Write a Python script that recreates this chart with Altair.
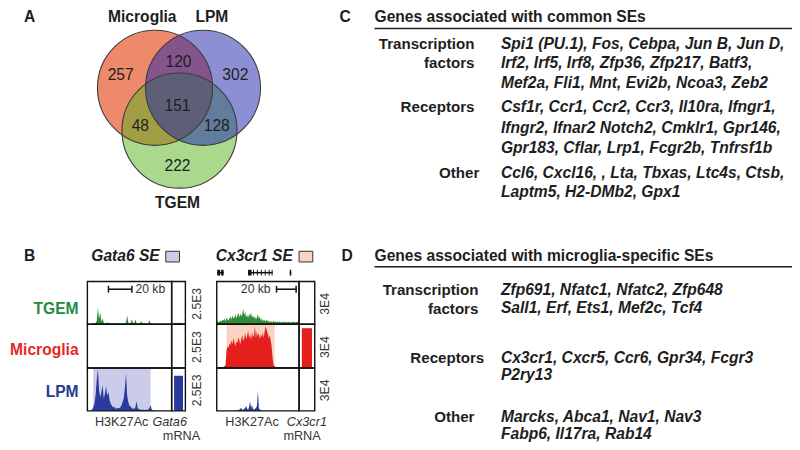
import altair as alt
import pandas as pd

# ======================= DATA =======================
# --- Panel A: Venn diagram of super-enhancer counts
venn_sets = ["Microglia", "LPM", "TGEM"]
venn_regions = ["Microglia only", "Microglia & LPM", "LPM only", "All three",
                "Microglia & TGEM", "LPM & TGEM", "TGEM only"]
venn_counts = [257, 120, 302, 151, 48, 128, 222]

# --- Panel B: H3K27Ac signal (reads) in 1-kb bins, and mRNA
track_rows = ["TGEM", "Microglia", "LPM"]

gata6_kb = list(range(73))
gata6_tgem = [0, 0, 0, 10, 40, 60, 50, 80, 200, 960, 300, 700, 150, 340, 90, 60, 50, 120, 60, 50,
              40, 60, 50, 40, 50, 60, 40, 50, 60, 50, 80, 60, 50, 100, 510, 80, 60, 90, 290, 60,
              80, 280, 60, 50, 40, 60, 170, 40, 50, 40, 30, 40, 60, 230, 40, 30, 20, 10, 10, 5,
              5, 5, 5, 5, 5, 5, 5, 5, 5, 5, 5, 5, 5]
gata6_microglia = []
gata6_lpm = [0, 10, 20, 40, 80, 200, 400, 900, 1800, 2440, 1200, 800, 1100, 1500, 700, 1000, 1450, 900, 1100, 600,
             400, 300, 200, 250, 150, 120, 180, 150, 200, 300, 500, 700, 1300, 2200, 900, 500, 300, 250, 150, 120,
             130, 200, 560, 150, 100, 80, 70, 60, 60, 50, 60, 70, 80, 150, 330, 80, 40, 20, 10, 10,
             5, 5, 5, 5, 5, 5, 5, 5, 5, 5, 5, 5, 5]
gata6_mrna = [80, 0, 2050]
gata6_scale_max = 2500
gata6_se = [5, 54]          # kb, super-enhancer (LPM)

cx3cr1_kb = list(range(85))
cx3cr1_tgem = [1400, 2000, 1400, 2000, 2700, 2000, 3400,
               2700, 4100, 2000, 4800, 3400, 2700, 4100,
               5500, 3400, 6100, 4100, 4800, 6800, 4100,
               6100, 8200, 4800, 7500, 5500, 6800, 10900,
               6100, 8900, 4800, 6800, 4100, 7500, 5500,
               8200, 4800, 6100, 4100, 5500, 3400, 4800,
               6800, 4100, 5500, 2700, 4100, 2000, 3400,
               2700, 2000, 3400, 2000, 2700, 1400, 2000,
               2000, 1400, 2700, 1400, 2000, 1400, 2000,
               1400, 2000, 1400, 1400, 2000, 1400, 1400,
               2000, 1400, 1400, 2000, 1400, 1400, 1400,
               1400, 2000, 1400, 1400, 1400, 2000, 1400, 1400]
cx3cr1_microglia = [700, 700, 700, 700, 700, 700, 700, 700, 1400, 2000,
                    12200, 15000, 13600, 17000, 15600, 19000, 16300, 20400, 17700, 15000,
                    18400, 17000, 21100, 19000, 16300, 19700, 22400, 18400, 20400, 23800,
                    19700, 21800, 25800, 20400, 23100, 19000, 24500, 21100, 22400, 28600,
                    20400, 25200, 21800, 23800, 19700, 23100, 21100, 24500, 20400, 25800,
                    28600, 25800, 23800, 20400, 22400, 19000, 15000, 6800, 2000, 1400,
                    700, 700, 700, 700, 700, 700, 700, 700, 700, 700,
                    700, 700, 700, 700, 700, 700, 700, 700, 700, 700,
                    700, 700, 700, 700, 700]
cx3cr1_lpm = [0, 0, 0, 0, 0, 0, 0, 0, 0, 0, 0, 0, 0, 0, 0, 0, 0, 0, 0, 0,
              700, 0, 700, 700, 1400, 2000, 700, 700, 1400, 2000, 3400, 1400, 700, 2700, 6800, 2000,
              4100, 1400, 700, 1400, 2000, 3400, 14300, 2000, 700, 700,
              0, 0, 0, 0, 0, 0, 0, 0, 0, 0, 0, 0, 0, 0, 0, 0, 0, 0, 0, 0,
              0, 0, 0, 0, 0, 0, 0, 0, 0, 0, 0, 0, 0, 0, 0, 0, 0, 0, 0]
cx3cr1_mrna = [0, 27300, 0]
cx3cr1_scale_max = 30000
cx3cr1_se = [10, 59]        # kb, super-enhancer (Microglia)
cx3cr1_gene_start = [0.5, 32, 74.5]
cx3cr1_gene_end = [7, 57, 76]
cx3cr1_exon_start = [0.5, 4.5, 32, 37, 41, 45, 49, 53, 56, 74.5]
cx3cr1_exon_end = [3.5, 7, 35.5, 38, 42, 46, 50, 54, 57, 76]
scalebar_kb = 20

# --- Panels C and D
common_title = "Genes associated with common SEs"
common_labels = ["Transcription", "factors", "Receptors", "Other"]
common_genes = [
    "Spi1 (PU.1), Fos, Cebpa, Jun B, Jun D,",
    "Irf2, Irf5, Irf8, Zfp36, Zfp217, Batf3,",
    "Mef2a, Fli1, Mnt, Evi2b, Ncoa3, Zeb2",
    "Csf1r, Ccr1, Ccr2, Ccr3, Il10ra, Ifngr1,",
    "Ifngr2, Ifnar2 Notch2, Cmklr1, Gpr146,",
    "Gpr183, Cflar, Lrp1, Fcgr2b, Tnfrsf1b",
    "Ccl6, Cxcl16, , Lta, Tbxas, Ltc4s, Ctsb,",
    "Laptm5, H2-DMb2, Gpx1",
]
specific_title = "Genes associated with microglia-specific SEs"
specific_labels = ["Transcription", "factors", "Receptors", "Other"]
specific_genes = [
    "Zfp691, Nfatc1, Nfatc2, Zfp648",
    "Sall1, Erf, Ets1, Mef2c, Tcf4",
    "Cx3cr1, Cxcr5, Ccr6, Gpr34, Fcgr3",
    "P2ry13",
    "Marcks, Abca1, Nav1, Nav3",
    "Fabp6, Il17ra, Rab14",
]

# ======================= LAYOUT (figure coordinates) =======================
W, H = 784, 434
SX, SY = 0.98, 434 / 446
FS = 0.975


def px(x):
    return 400 + (x - 400) * SX - 8


def py(y):
    return 225 + (y - 225) * SY - 8


CX = alt.Scale(domain=[0, 800], range=[px(0), px(800)], nice=False, zero=False)
CY = alt.Scale(domain=[0, 450], range=[py(0), py(450)], nice=False, zero=False)

FONT = "Liberation Sans"
INK = "#1e1e1e"
TOP_Y = 11.6

panel_letters = ["A", "B", "C", "D"]
panel_letter_x = [22, 22, 344, 346]
panel_letter_y = [TOP_Y, 257, TOP_Y, 257]

venn_cx = [150, 199, 175]
venn_cy = [84, 84, 128]
venn_r = 59
venn_label_x = [137, 208, 173]
venn_label_y = [TOP_Y, TOP_Y, 202]
venn_count_x = [115, 174, 232, 173, 135, 213, 173]
venn_count_y = [71, 58, 71, 103, 123, 123, 164]
venn_style = {"Microglia": ("#EF896C", 1.0), "TGEM": ("#55B31D", 0.5), "LPM": ("#191FA9", 0.5)}

ROW_Y = [(283, 327), (327, 372), (372, 416)]
row_label_y = [311, 353, 397]
row_label_colors = ["#238A3F", "#E42A25", "#2B3796"]
track_colors = ["#2E8C3A", "#E41F1C", "#2A3A9F"]
LOCI = [
    dict(name="Gata6", kb=gata6_kb, tracks=[gata6_tgem, gata6_microglia, gata6_lpm],
         mrna=gata6_mrna, ymax=gata6_scale_max, x0=81, x1=167, m1=181, span=72,
         se=gata6_se, se_row=2, shade="#CBCBEA", title_x=85, sq=(161, 175),
         ylab="2.5E3", ylab_x=193, h3_x=116, gene_x=165, mrna_x=177,
         bar_start=18, kb_text_x=130, kb_align="left"),
    dict(name="Cx3cr1", kb=cx3cr1_kb, tracks=[cx3cr1_tgem, cx3cr1_microglia, cx3cr1_lpm],
         mrna=cx3cr1_mrna, ymax=cx3cr1_scale_max, x0=213, x1=297, m1=313, span=84,
         se=cx3cr1_se, se_row=1, shade="#F9D2C2", title_x=212, sq=(297, 311),
         ylab="3E4", ylab_x=323, h3_x=249, gene_x=305, mrna_x=300,
         bar_start=61, kb_text_x=268, kb_align="right"),
]


def X(f, scale=CX):
    return alt.X(f, type="quantitative", scale=scale, axis=None)


def Y(f, scale=CY):
    return alt.Y(f, type="quantitative", scale=scale, axis=None)


def text_layer(xs, ys, texts, size=16, weight="normal", style="normal",
               align="center", color=INK, angle=None):
    df = pd.DataFrame({"x": xs, "y": ys, "t": texts})
    kw = dict(font=FONT, fontSize=size * FS, fontWeight=weight, fontStyle=style,
              align=align, baseline="middle", color=color)
    if angle is not None:
        kw["angle"] = angle
    return alt.Chart(df).mark_text(**kw).encode(x=X("x"), y=Y("y"), text="t:N")


layers = []

# ---------------- Panel A ----------------
circle_size = (2 * venn_r * FS) ** 2
for s in ["Microglia", "TGEM", "LPM"]:
    i = venn_sets.index(s)
    col, op = venn_style[s]
    df = pd.DataFrame({"x": [venn_cx[i]], "y": [venn_cy[i]], "set": [s]})
    layers.append(alt.Chart(df).mark_circle(size=circle_size, color=col, opacity=op)
                  .encode(x=X("x"), y=Y("y")))
outline = pd.DataFrame({"x": venn_cx, "y": venn_cy, "set": venn_sets})
layers.append(alt.Chart(outline).mark_point(shape="circle", filled=False, size=circle_size,
                                            color="#3c3c3c", strokeWidth=1.1, opacity=1)
              .encode(x=X("x"), y=Y("y")))
layers.append(text_layer(venn_count_x, venn_count_y, [str(c) for c in venn_counts], size=16))
layers.append(text_layer(venn_label_x, venn_label_y, venn_sets, size=16, weight="bold"))
layers.append(text_layer(panel_letter_x, panel_letter_y, panel_letters, size=16, weight="bold"))

# ---------------- Panel B ----------------
for L in LOCI:
    xs = alt.Scale(domain=[0, L["span"]], range=[px(L["x0"]), px(L["x1"])], nice=False, zero=False)
    # super-enhancer shading
    top, bot = ROW_Y[L["se_row"]]
    sdf = pd.DataFrame({"s": [L["se"][0]], "e": [L["se"][1]], "y0": [top], "y1": [bot]})
    layers.append(alt.Chart(sdf).mark_rect(color=L["shade"])
                  .encode(x=X("s", xs), x2="e", y=Y("y0"), y2="y1"))
    for r, (top, bot) in enumerate(ROW_Y):
        ys = alt.Scale(domain=[0, L["ymax"]], range=[py(bot), py(top)], nice=False, zero=True)
        sig = L["tracks"][r]
        if sig:
            df = pd.DataFrame({"kb": L["kb"], "signal": sig})
            layers.append(alt.Chart(df).mark_area(color=track_colors[r], interpolate="linear")
                          .encode(x=X("kb", xs), y=Y("signal", ys)))
        val = L["mrna"][r]
        if val > 0:
            bs = alt.Scale(type="band", domain=["mRNA"], range=[px(L["x1"]), px(L["m1"])],
                           paddingInner=0, paddingOuter=0.27)
            bdf = pd.DataFrame({"assay": ["mRNA"], "value": [val]})
            layers.append(alt.Chart(bdf).mark_bar(color=track_colors[r])
                          .encode(x=alt.X("assay:N", scale=bs, axis=None), y=Y("value", ys)))
    # frames
    fx0, fx1, fy0, fy1 = [], [], [], []
    for (top, bot) in ROW_Y:
        for a, b in [(L["x0"], L["x1"]), (L["x1"], L["m1"])]:
            fx0.append(a); fx1.append(b); fy0.append(top); fy1.append(bot)
    fdf = pd.DataFrame({"x0": fx0, "x1": fx1, "y0": fy0, "y1": fy1})
    layers.append(alt.Chart(fdf).mark_rect(filled=False, color="#111111", strokeWidth=1.4)
                  .encode(x=X("x0"), x2="x1", y=Y("y0"), y2="y1"))
    # scale bar
    sb = pd.DataFrame({"s": [L["bar_start"]], "e": [L["bar_start"] + scalebar_kb], "y": [291]})
    layers.append(alt.Chart(sb).mark_rule(color="#111111", strokeWidth=1.5)
                  .encode(x=X("s", xs), x2="e", y=Y("y")))
    tk = pd.DataFrame({"kb": [L["bar_start"], L["bar_start"] + scalebar_kb], "y0": [287.5, 287.5], "y1": [294.5, 294.5]})
    layers.append(alt.Chart(tk).mark_rule(color="#111111", strokeWidth=1.5)
                  .encode(x=X("kb", xs), y=Y("y0"), y2="y1"))
    layers.append(text_layer([L["kb_text_x"]], [291], [f"{scalebar_kb} kb"], size=12.5,
                             align=L["kb_align"], color="#333333"))
    # legend square + title
    sq = pd.DataFrame({"x0": [L["sq"][0]], "x1": [L["sq"][1]], "y0": [252], "y1": [263]})
    layers.append(alt.Chart(sq).mark_rect(fill=L["shade"], stroke="#333333", strokeWidth=1)
                  .encode(x=X("x0"), x2="x1", y=Y("y0"), y2="y1"))
    layers.append(text_layer([L["title_x"]], [257], [f"{L['name']} SE"], size=16,
                             weight="bold", style="italic", align="left"))
    # rotated scale labels
    layers.append(text_layer([L["ylab_x"]] * 3, [(t + b) / 2 + 1 for t, b in ROW_Y], [L["ylab"]] * 3,
                             size=12.5, angle=270, color="#333333"))
    # bottom labels
    layers.append(text_layer([L["h3_x"], L["mrna_x"]], [427, 442], ["H3K27Ac", "mRNA"],
                             size=13, color="#333333"))
    layers.append(text_layer([L["gene_x"]], [427], [L["name"]], size=13, style="italic",
                             color="#333333"))

# Cx3cr1 gene models
xs_c = alt.Scale(domain=[0, LOCI[1]["span"]], range=[px(LOCI[1]["x0"]), px(LOCI[1]["x1"])],
                 nice=False, zero=False)
gdf = pd.DataFrame({"s": cx3cr1_gene_start, "e": cx3cr1_gene_end, "y": [274] * 3})
layers.append(alt.Chart(gdf).mark_rule(color="#111111", strokeWidth=1.5)
              .encode(x=X("s", xs_c), x2="e", y=Y("y")))
edf = pd.DataFrame({"s": cx3cr1_exon_start, "e": cx3cr1_exon_end,
                    "y0": [271] * len(cx3cr1_exon_start), "y1": [277] * len(cx3cr1_exon_start)})
layers.append(alt.Chart(edf).mark_rect(color="#111111")
              .encode(x=X("s", xs_c), x2="e", y=Y("y0"), y2="y1"))

# row labels
for r, name in enumerate(track_rows):
    layers.append(text_layer([72], [row_label_y[r]], [name], size=16, weight="bold",
                             align="right", color=row_label_colors[r]))

# ---------------- Panels C and D ----------------
tables = [
    dict(title=common_title, title_y=TOP_Y, rule_y=23, labels=common_labels,
         label_x=[476, 476, 476, 481], label_y=[39, 59, 104, 172],
         genes=common_genes, gene_y=[39, 59, 79, 104, 125, 146, 172, 191]),
    dict(title=specific_title, title_y=257, rule_y=268, labels=specific_labels,
         label_x=[480, 480, 486, 476], label_y=[292, 311, 362, 422],
         genes=specific_genes, gene_y=[292, 310, 362, 379, 422, 440]),
]
for T in tables:
    layers.append(text_layer([374], [T["title_y"]], [T["title"]], size=16, weight="bold", align="left"))
    rdf = pd.DataFrame({"x0": [374], "x1": [800], "y": [T["rule_y"]]})
    layers.append(alt.Chart(rdf).mark_rule(color="#1e1e1e", strokeWidth=1.5)
                  .encode(x=X("x0"), x2="x1", y=Y("y")))
    layers.append(text_layer(T["label_x"], T["label_y"], T["labels"], size=15.5, weight="bold",
                             align="right"))
    layers.append(text_layer([503] * len(T["genes"]), T["gene_y"], T["genes"], size=16,
                             weight="bold", style="italic", align="left"))

chart = (
    alt.layer(*layers)
    .resolve_scale(x="independent", y="independent")
    .properties(width=W, height=H, padding=0, autosize=alt.AutoSizeParams(type="none"))
    .configure_view(stroke=None)
)
chart.save("out.html", embed_options={"renderer": "svg", "actions": False})
